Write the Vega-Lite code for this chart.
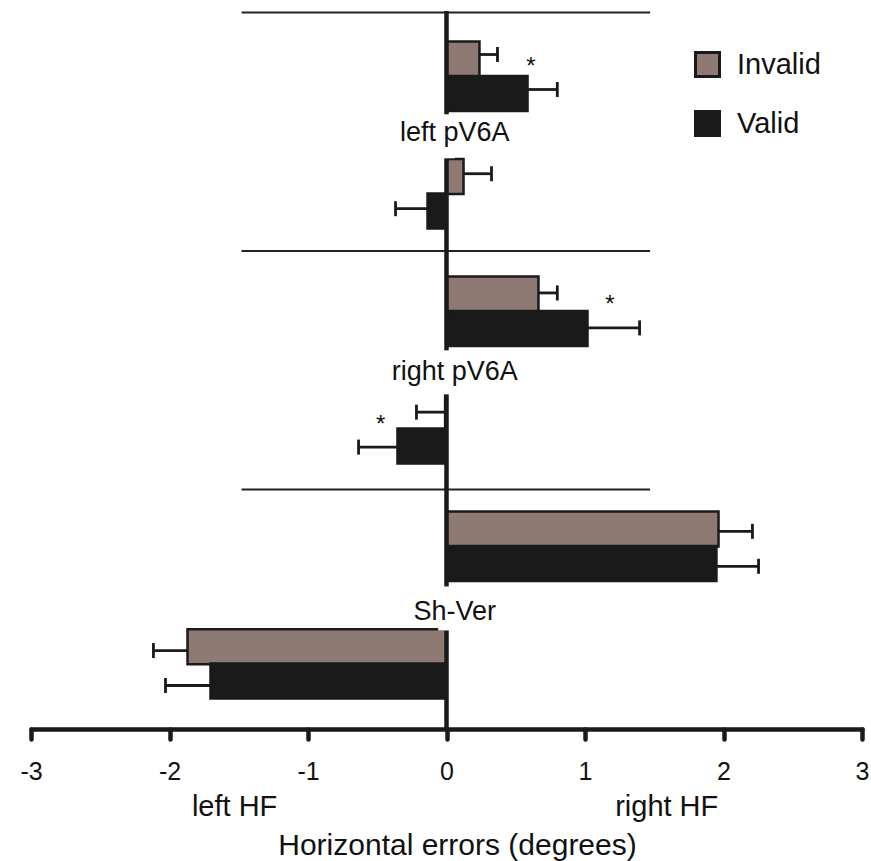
{
  "$schema": "https://vega.github.io/schema/vega-lite/v6.json",
  "width": 831,
  "height": 718,
  "autosize": {"type": "none"},
  "padding": {"left": 31, "top": 11, "right": 9, "bottom": 132},
  "background": "white",
  "config": {"view": {"stroke": null}, "font": "Liberation Sans"},
  "data": {
    "values": [
      {"g": 0, "region": "left pV6A", "side": "right HF", "cond": "Invalid", "mean": 0.238, "hi": 0.368},
      {"g": 0, "region": "left pV6A", "side": "right HF", "cond": "Valid", "mean": 0.585, "hi": 0.80},
      {"g": 1, "region": "left pV6A", "side": "left HF", "cond": "Invalid", "mean": 0.123, "hi": 0.325},
      {"g": 1, "region": "left pV6A", "side": "left HF", "cond": "Valid", "mean": -0.137, "hi": -0.368},
      {"g": 2, "region": "right pV6A", "side": "right HF", "cond": "Invalid", "mean": 0.664, "hi": 0.80},
      {"g": 2, "region": "right pV6A", "side": "right HF", "cond": "Valid", "mean": 1.018, "hi": 1.394},
      {"g": 3, "region": "right pV6A", "side": "left HF", "cond": "Invalid", "mean": -0.01, "hi": -0.217},
      {"g": 3, "region": "right pV6A", "side": "left HF", "cond": "Valid", "mean": -0.354, "hi": -0.635},
      {"g": 4, "region": "Sh-Ver", "side": "right HF", "cond": "Invalid", "mean": 1.964, "hi": 2.209},
      {"g": 4, "region": "Sh-Ver", "side": "right HF", "cond": "Valid", "mean": 1.949, "hi": 2.253},
      {"g": 5, "region": "Sh-Ver", "side": "left HF", "cond": "Invalid", "mean": -1.87, "hi": -2.116},
      {"g": 5, "region": "Sh-Ver", "side": "left HF", "cond": "Valid", "mean": -1.704, "hi": -2.029}
    ]
  },
  "resolve": {"scale": {"y": "independent"}},
  "layer": [
    {
      "data": {"values": [{"after": -1}, {"after": 1}, {"after": 3}]},
      "mark": {"type": "rule", "stroke": "#222", "strokeWidth": 2},
      "encoding": {
        "y": {"field": "after", "type": "quantitative", "axis": null, "scale": {"domain": [-1.0134, 5.0101], "reverse": true, "nice": false, "zero": false}},
        "x": {"datum": -1.48},
        "x2": {"datum": 1.47}
      }
    },
    {
      "transform": [{"filter": "datum.cond === 'Invalid'"}],
      "mark": {"type": "rule", "stroke": "#1a1a1a", "strokeWidth": 2.8},
      "encoding": {
        "x": {"field": "mean", "type": "quantitative"},
        "x2": {"field": "hi"},
        "y": {"field": "g", "type": "quantitative", "axis": null, "scale": {"domain": [-0.365, 5.658], "reverse": true, "nice": false, "zero": false}}
      }
    },
    {
      "transform": [{"filter": "datum.cond === 'Valid'"}],
      "mark": {"type": "rule", "stroke": "#1a1a1a", "strokeWidth": 2.8},
      "encoding": {
        "x": {"field": "mean", "type": "quantitative"},
        "x2": {"field": "hi"},
        "y": {"field": "g", "type": "quantitative", "axis": null, "scale": {"domain": [-0.6586, 5.365], "reverse": true, "nice": false, "zero": false}}
      }
    },
    {
      "transform": [{"filter": "datum.cond === 'Invalid'"}],
      "mark": {"type": "point", "shape": "stroke", "angle": 90, "size": 225, "filled": false, "stroke": "#1a1a1a", "strokeWidth": 2.8, "opacity": 1},
      "encoding": {
        "x": {"field": "hi", "type": "quantitative"},
        "y": {"field": "g", "type": "quantitative", "axis": null, "scale": {"domain": [-0.365, 5.658], "reverse": true, "nice": false, "zero": false}}
      }
    },
    {
      "transform": [{"filter": "datum.cond === 'Valid'"}],
      "mark": {"type": "point", "shape": "stroke", "angle": 90, "size": 225, "filled": false, "stroke": "#1a1a1a", "strokeWidth": 2.8, "opacity": 1},
      "encoding": {
        "x": {"field": "hi", "type": "quantitative"},
        "y": {"field": "g", "type": "quantitative", "axis": null, "scale": {"domain": [-0.6586, 5.365], "reverse": true, "nice": false, "zero": false}}
      }
    },
    {
      "transform": [{"filter": "datum.cond === 'Invalid'"}],
      "mark": {"type": "bar", "orient": "horizontal", "size": 35, "stroke": "#1a1a1a", "strokeWidth": 2.5},
      "encoding": {
        "x": {
          "field": "mean",
          "type": "quantitative",
          "scale": {"domain": [-3, 3], "nice": false},
          "axis": {
            "values": [-3, -2, -1, 0, 1, 2, 3],
            "labelExpr": "'' + datum.value",
            "grid": false,
            "domainColor": "#1a1a1a",
            "domainWidth": 4.5,
            "domainCap": "round",
            "tickColor": "#1a1a1a",
            "tickWidth": 4.5,
            "tickSize": 10,
            "tickCap": "round",
            "labelFontSize": 25,
            "labelFont": "Liberation Sans",
            "labelColor": "#111",
            "labelPadding": 20,
            "labelFlush": false,
            "title": "Horizontal errors (degrees)",
            "titleFont": "Liberation Sans",
            "titleFontSize": 30,
            "titleFontWeight": "normal",
            "titleColor": "#111",
            "titlePadding": 46,
            "titleX": 426
          }
        },
        "y": {"field": "g", "type": "quantitative", "axis": null, "scale": {"domain": [-0.365, 5.658], "reverse": true, "nice": false, "zero": false}},
        "color": {
          "field": "cond",
          "type": "nominal",
          "scale": {"domain": ["Invalid", "Valid"], "range": ["#8e7a72", "#1a1a1a"]},
          "legend": {
            "title": null,
            "orient": "none",
            "legendX": 662,
            "legendY": 39,
            "padding": 0,
            "symbolType": "square",
            "symbolSize": 576,
            "symbolStrokeWidth": 3,
            "symbolStrokeColor": "#1a1a1a",
            "symbolOpacity": 1,
            "labelFontSize": 29,
            "labelFont": "Liberation Sans",
            "labelColor": "#111",
            "labelOffset": 15,
            "rowPadding": 22
          }
        }
      }
    },
    {
      "transform": [{"filter": "datum.cond === 'Valid'"}],
      "mark": {"type": "bar", "orient": "horizontal", "size": 35, "stroke": "#1a1a1a", "strokeWidth": 2.5},
      "encoding": {
        "x": {"field": "mean", "type": "quantitative"},
        "y": {"field": "g", "type": "quantitative", "axis": null, "scale": {"domain": [-0.6586, 5.365], "reverse": true, "nice": false, "zero": false}},
        "color": {"field": "cond", "type": "nominal"}
      }
    },
    {
      "data": {"values": [{"z": 0}]},
      "mark": {"type": "rule", "stroke": "#1a1a1a", "strokeWidth": 4.5},
      "encoding": {"x": {"datum": 0}}
    },
    {
      "data": {"values": [
        {"g": 0, "label": "left pV6A"},
        {"g": 2, "label": "right pV6A"},
        {"g": 4, "label": "Sh-Ver"}
      ]},
      "mark": {"type": "bar", "orient": "horizontal", "size": 44, "color": "white", "opacity": 1},
      "encoding": {
        "x": {"datum": -0.06},
        "x2": {"datum": 0.06},
        "y": {"field": "g", "type": "quantitative", "axis": null, "scale": {"domain": [-1.0192, 4.979], "reverse": true, "nice": false, "zero": false}}
      }
    },
    {
      "data": {"values": [
        {"g": 0, "label": "left pV6A"},
        {"g": 2, "label": "right pV6A"},
        {"g": 4, "label": "Sh-Ver"}
      ]},
      "mark": {"type": "text", "font": "Liberation Sans", "color": "#111", "fontSize": 27, "align": "center", "baseline": "middle"},
      "encoding": {
        "x": {"datum": 0.06},
        "y": {"field": "g", "type": "quantitative", "axis": null, "scale": {"domain": [-1.0192, 4.979], "reverse": true, "nice": false, "zero": false}},
        "text": {"field": "label"}
      }
    },
    {
      "data": {"values": [
        {"g": 0, "x": 0.61},
        {"g": 2, "x": 1.18},
        {"g": 3, "x": -0.475}
      ]},
      "mark": {"type": "text", "font": "Liberation Sans", "color": "#111", "fontSize": 24, "align": "center", "baseline": "alphabetic", "dy": 2, "text": "*"},
      "encoding": {
        "x": {"field": "x", "type": "quantitative"},
        "y": {"field": "g", "type": "quantitative", "axis": null, "scale": {"domain": [-0.5117, 5.512], "reverse": true, "nice": false, "zero": false}}
      }
    },
    {
      "data": {"values": [
        {"g": 5, "x": -1.53, "label": "left HF"},
        {"g": 5, "x": 1.59, "label": "right HF"}
      ]},
      "mark": {"type": "text", "font": "Liberation Sans", "color": "#111", "fontSize": 29, "align": "center", "baseline": "middle"},
      "encoding": {
        "x": {"field": "x", "type": "quantitative"},
        "y": {"field": "g", "type": "quantitative", "axis": null, "scale": {"domain": [-1.678, 4.345], "reverse": true, "nice": false, "zero": false}},
        "text": {"field": "label"}
      }
    }
  ]
}
